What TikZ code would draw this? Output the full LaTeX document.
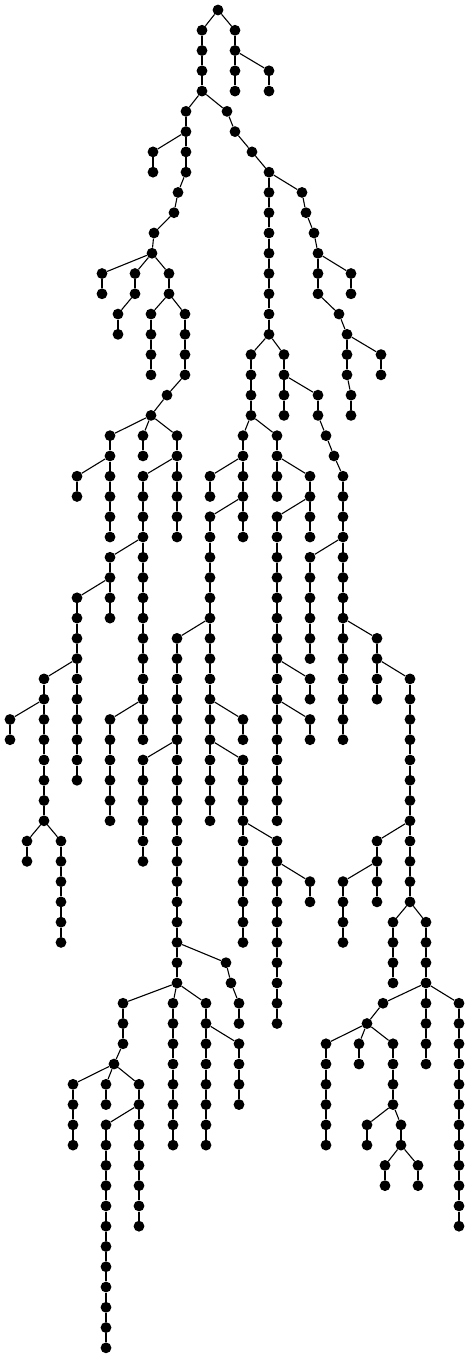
\documentclass[tikz,border=0pt]{standalone}
\tikzset{
  dot/.style={circle,fill=black,draw=none,minimum size=10.8pt,inner sep=0pt},
  treeedge/.style={line width=1.1pt,draw=black}
}
\begin{document}
\begin{tikzpicture}[x=1pt,y=1pt]
\useasboundingbox (0,0) rectangle (470,-1358);
% vertical chains: column x / first level / last level
\foreach \x/\a/\b in {218/0/0, 202/1/4, 235/1/4, 269/3/4, 186/5/8, 227/5/5, 235/6/6, 153/7/8, 252/7/7, 269/8/16, 178/9/9, 302/9/9, 174/10/10, 306/10/10, 154/11/11, 314/11/11, 152/12/12, 318/12/14, 102/13/14, 135/13/14, 169/13/14, 351/13/14, 118/15/16, 151/15/18, 185/15/18, 339/15/15, 347/16/18, 251/17/20, 284/17/20, 381/17/18, 167/19/19, 318/19/20, 351/19/20, 151/20/20, 110/21/26, 143/21/22, 177/21/26, 243/21/26, 277/21/24, 326/21/21, 334/22/22, 77/23/24, 143/23/36, 210/23/24, 310/23/26, 343/23/36, 210/25/40, 277/25/40, 110/27/30, 310/27/32, 77/29/38, 177/31/48, 377/31/34, 44/33/40, 310/33/34, 410/33/44, 10/35/36, 110/35/40, 243/35/36, 310/35/36, 143/37/42, 243/37/46, 27/41/42, 61/41/46, 277/41/50, 377/41/44, 310/43/44, 343/43/46, 393/45/48, 426/45/52, 226/47/47, 231/48/48, 123/49/51, 173/49/56, 206/49/56, 239/49/50, 383/49/49, 459/49/60, 367/50/50, 239/51/54, 326/51/56, 359/51/52, 393/51/54, 114/52/52, 73/53/56, 106/53/54, 139/53/60, 106/55/66, 367/55/56, 401/55/56, 385/57/58, 418/57/58}{
  \foreach \L in {\a,...,\b}{
    \node[dot] (v\x-\L) at (\x,{-10-20.27*\L}) {};
  }
  \pgfmathtruncatemacro\bb{\b-1}
  \ifnum\bb<\a\relax\else
    \foreach \L in {\a,...,\bb}{
      \pgfmathtruncatemacro\M{\L+1}
      \draw[treeedge] (v\x-\L) -- (v\x-\M);
    }
  \fi
}
% branching edges: parent level / parent column / child column
\foreach \L/\p/\c in {0/218/202, 0/218/235, 2/235/269, 4/202/186, 4/202/227, 5/227/235, 6/186/153, 6/235/252, 7/252/269, 8/186/178, 8/269/302, 9/178/174, 9/302/306, 10/174/154, 10/306/314, 11/154/152, 11/314/318, 12/152/102, 12/152/135, 12/152/169, 12/318/351, 14/135/118, 14/169/151, 14/169/185, 14/318/339, 15/339/347, 16/269/251, 16/269/284, 16/347/381, 18/185/167, 18/284/318, 18/347/351, 19/167/151, 20/151/110, 20/151/143, 20/151/177, 20/251/243, 20/251/277, 20/318/326, 21/326/334, 22/110/77, 22/177/143, 22/243/210, 22/277/310, 22/334/343, 24/243/210, 24/310/277, 26/143/110, 26/343/310, 28/110/77, 30/210/177, 30/343/377, 32/77/44, 32/277/310, 32/377/410, 34/44/10, 34/143/110, 34/210/243, 34/277/310, 36/177/143, 36/210/243, 40/44/27, 40/44/61, 40/243/277, 40/410/377, 42/277/310, 42/377/343, 44/410/393, 44/410/426, 46/177/226, 47/226/231, 48/177/123, 48/177/173, 48/177/206, 48/231/239, 48/426/383, 48/426/459, 49/383/367, 50/206/239, 50/367/326, 50/367/359, 50/367/393, 51/123/114, 52/114/73, 52/114/106, 52/114/139, 54/139/106, 54/393/367, 54/393/401, 56/401/385, 56/401/418}{
  \pgfmathtruncatemacro\M{\L+1}
  \draw[treeedge] (v\p-\L) -- (v\c-\M);
}
\end{tikzpicture}
\end{document}
